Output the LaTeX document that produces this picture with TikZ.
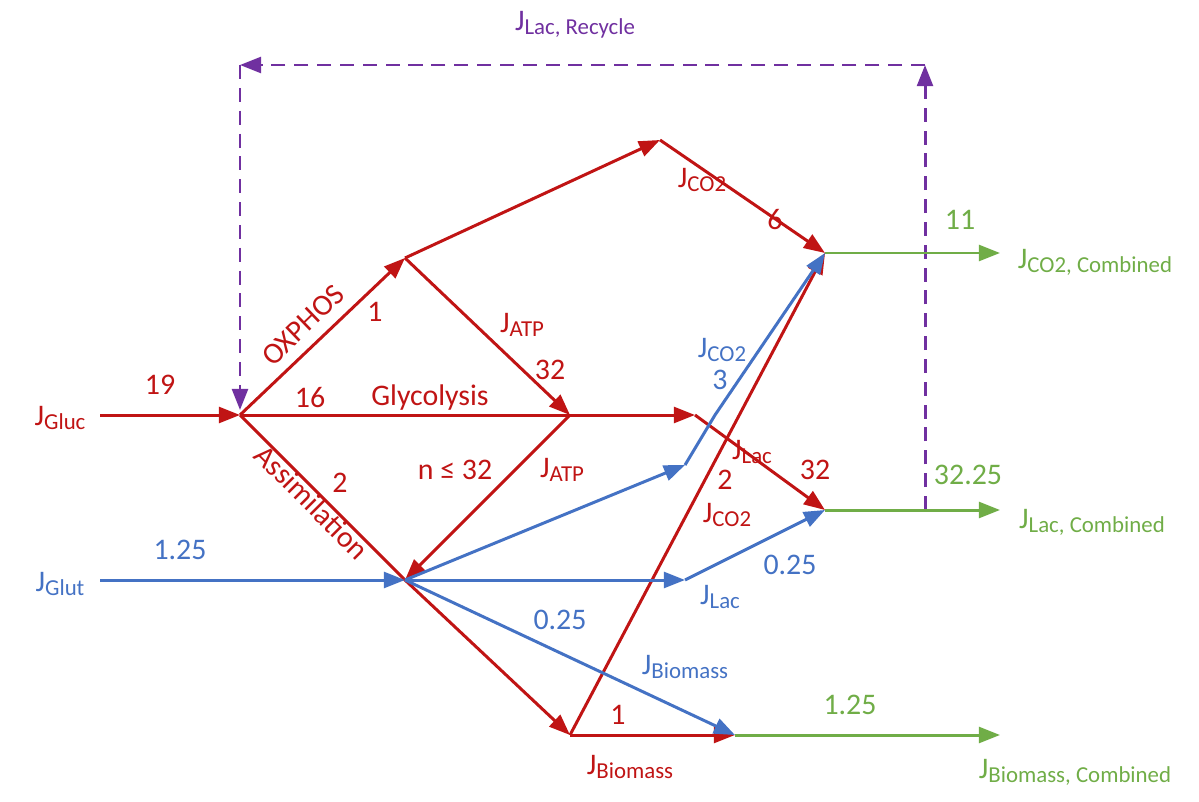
\documentclass[tikz,border=0pt]{standalone}
\usepackage{fontspec}
\setmainfont{Carlito}
\usetikzlibrary{arrows.meta}
\definecolor{cr}{RGB}{192,20,20}
\definecolor{cb}{RGB}{68,114,196}
\definecolor{cg}{RGB}{112,173,71}
\definecolor{cp}{RGB}{112,48,160}
\newcommand{\J}[1]{J{\fontsize{13}{15}\selectfont\raisebox{-0.35ex}{#1}}}
\begin{document}
\begin{tikzpicture}[x=0.02cm,y=-0.02cm,
  ln/.style={line width=1.7pt},
  ar/.style={ln,-{Triangle[length=12pt,width=9pt]}},
  lb/.style={font=\fontsize{17}{20}\selectfont,inner sep=0pt}]
\useasboundingbox (0,0) rectangle (1199,801);
\coordinate (gs) at (100,415); \coordinate (A) at (240,415);
\coordinate (B) at (405,258); \coordinate (C) at (660,140);
\coordinate (D) at (825,253); \coordinate (E) at (570,415);
\coordinate (E2) at (695,415); \coordinate (F) at (825,510);
\coordinate (G) at (405,580); \coordinate (H) at (570,735);
\coordinate (K) at (735,735); \coordinate (us) at (100,580);
\coordinate (b1) at (685,465); \coordinate (b2) at (685,580);
\coordinate (D2) at (1000,253); \coordinate (F2) at (1000,510);
\coordinate (K2) at (1000,735);
\coordinate (p1) at (925,510); \coordinate (p2) at (925,65); \coordinate (p3) at (240,65);
% purple
\tikzset{pd/.style={ar,cp,dash pattern=on 8pt off 5pt}}
\draw[pd] (p1) -- (p2);
\draw[pd] (p2) -- (p3);
\draw[pd] (p3) -- (240,410);
% green
\draw[ar,cg] (D) -- (D2);
\draw[ar,cg] (F) -- (F2);
\draw[ar,cg] (K) -- (K2);
% red
\draw[ar,cr] (gs) -- (A);
\draw[ar,cr] (A) -- (B);
\draw[ar,cr] (B) -- (C);
\draw[ar,cr] (C) -- (D);
\draw[ar,cr] (B) -- (E);
\draw[ar,cr] (A) -- (E2);
\draw[ar,cr] (E2) -- (F);
\draw[ar,cr] (E) -- (G);
\draw[ln,cr] (A) -- (G);
\draw[ar,cr] (G) -- (H);
\draw[ar,cr] (H) -- (K);
\draw[ar,cr] (H) -- (D);
% blue
\draw[ar,cb] (us) -- (G);
\draw[ar,cb] (G) -- (b1);
\draw[ar,cb] (b1) -- (715,415) -- (D);
\draw[ar,cb] (G) -- (b2);
\draw[ar,cb] (b2) -- (F);
\draw[ar,cb] (G) -- (K);
% labels
\node[lb,cp] (l1) at (575,25) {\J{Lac, Recycle}};
\node[lb,cr] (l2) at (160,385) {19};
\node[lb,cr] (l3) at (60,418) {\J{Gluc}};
\node[lb,cr,rotate=44] (l4) at (303,325) {OXPHOS};
\node[lb,cr] (l5) at (375,312) {1};
\node[lb,cr] (l6) at (310,398) {16};
\node[lb,cr] (l7) at (430,398) {Glycolysis};
\node[lb,cr] (l8) at (522,325) {\J{ATP}};
\node[lb,cr] (l9) at (550,370) {32};
\node[lb,cr] (l10) at (702,180) {\J{CO2}};
\node[lb,cr] (l11) at (775,220) {6};
\node[lb,cg] (l12) at (960,220) {11};
\node[lb,cg] (l13) at (1095,262) {\J{CO2, Combined}};
\node[lb,cr,rotate=-45] (l14) at (312,502) {Assimilation};
\node[lb,cr] (l15) at (340,483) {2};
\node[lb,cr] (l16) at (455,470) {n ≤ 32};
\node[lb,cr] (l17) at (562,470) {\J{ATP}};
\node[lb,cb] (l18) at (722,350) {\J{CO2}};
\node[lb,cb] (l19) at (720,380) {3};
\node[lb,cr] (l20) at (752,452) {\J{Lac}};
\node[lb,cr] (l21) at (815,470) {32};
\node[lb,cr] (l22) at (725,480) {2};
\node[lb,cr] (l23) at (727,515) {\J{CO2}};
\node[lb,cg] (l24) at (968,475) {32.25};
\node[lb,cg] (l25) at (1092,522) {\J{Lac, Combined}};
\node[lb,cb] (l26) at (180,550) {1.25};
\node[lb,cb] (l27) at (60,584) {\J{Glut}};
\node[lb,cb] (l28) at (720,597) {\J{Lac}};
\node[lb,cb] (l29) at (790,565) {0.25};
\node[lb,cb] (l30) at (560,620) {0.25};
\node[lb,cb] (l31) at (685,667) {\J{Biomass}};
\node[lb,cr] (l32) at (618,715) {1};
\node[lb,cr] (l33) at (630,767) {\J{Biomass}};
\node[lb,cg] (l34) at (850,705) {1.25};
\node[lb,cg] (l35) at (1075,772) {\J{Biomass, Combined}};
\end{tikzpicture}
\end{document}
